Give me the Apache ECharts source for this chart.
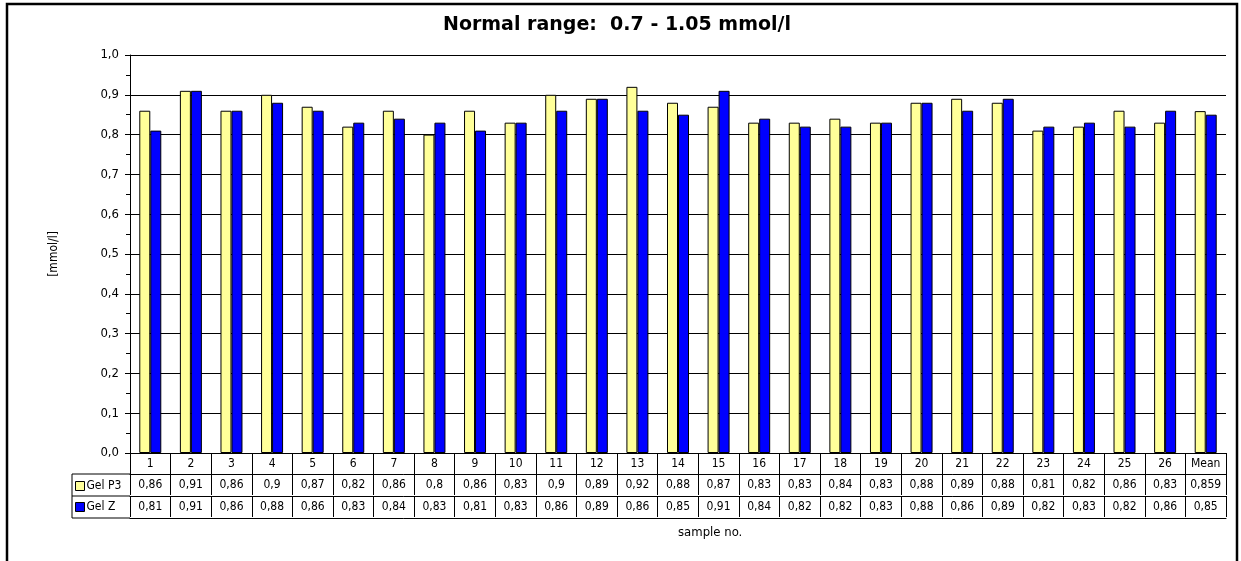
<!DOCTYPE html>
<html>
<head>
<meta charset="utf-8">
<script src="https://cdn.jsdelivr.net/npm/echarts@6/dist/echarts.min.js"></script>
<style>
html,body{margin:0;padding:0;background:#fff;}
#chart{width:1241px;height:561px;}
</style>
</head>
<body>
<div id="chart"></div>
<script>
const categories = ['1','2','3','4','5','6','7','8','9','10','11','12','13','14','15','16','17','18','19','20','21','22','23','24','25','26','Mean'];
const gelP3 = [0.86,0.91,0.86,0.9,0.87,0.82,0.86,0.8,0.86,0.83,0.9,0.89,0.92,0.88,0.87,0.83,0.83,0.84,0.83,0.88,0.89,0.88,0.81,0.82,0.86,0.83,0.859];
const gelZ = [0.81,0.91,0.86,0.88,0.86,0.83,0.84,0.83,0.81,0.83,0.86,0.89,0.86,0.85,0.91,0.84,0.82,0.82,0.83,0.88,0.86,0.89,0.82,0.83,0.82,0.86,0.85];
const seriesNames = ['Gel P3','Gel Z'];
const titleText = 'Normal range:  0.7 - 1.05 mmol/l';
const yAxisName = '[mmol/l]';
const xAxisName = 'sample no.';

const narrow = "'Liberation Sans Narrow','DejaVu Sans Condensed',Arial,sans-serif";
const fmt = v => String(v).replace('.', ',');

const chart = echarts.init(document.getElementById('chart'));

function tableAxis(data, offset, showLabels) {
  return {
    type: 'category',
    gridIndex: 0,
    position: 'bottom',
    offset: offset,
    data: data,
    axisLine: {show: true, lineStyle: {color: '#000', width: 1}},
    axisTick: {show: showLabels, length: 21, interval: 0, lineStyle: {color: '#000', width: 1}},
    axisLabel: {show: showLabels, interval: 0, margin: 5, fontSize: 12, color: '#000', fontFamily: narrow},
    splitLine: {show: false}
  };
}

const option = {
  animation: false,
  backgroundColor: '#fff',
  title: {
    text: titleText,
    left: 443,
    top: 16,
    padding: 0,
    textStyle: {fontSize: 19, fontWeight: 'bold', color: '#000', fontFamily: "'DejaVu Sans', sans-serif"}
  },
  legend: {
    orient: 'vertical',
    left: 75,
    top: 480,
    padding: 0,
    itemWidth: 9,
    itemHeight: 9,
    itemGap: 9,
    icon: 'rect',
    itemStyle: {borderColor: '#000', borderWidth: 1},
    textStyle: {fontSize: 12, color: '#000', fontFamily: narrow, padding: [0,0,0,-3]},
    data: seriesNames
  },
  grid: [{left: 130, top: 55, right: 15, bottom: 108, containLabel: false}],
  xAxis: [
    tableAxis(categories, 0, true),
    tableAxis(gelP3.map(fmt), 21, true),
    tableAxis(gelZ.map(fmt), 43, true),
    tableAxis(categories, 65, false)
  ],
  yAxis: [{
    type: 'value',
    min: 0,
    max: 1,
    interval: 0.1,
    name: yAxisName,
    nameLocation: 'middle',
    nameRotate: 90,
    nameGap: 70,
    nameTextStyle: {fontSize: 12, color: '#000', fontFamily: narrow},
    axisLine: {show: true, lineStyle: {color: '#000', width: 1}},
    axisTick: {show: true, length: 5, lineStyle: {color: '#000'}},
    minorTick: {show: true, splitNumber: 2, length: 4, lineStyle: {color: '#000'}},
    axisLabel: {formatter: v => v.toFixed(1).replace('.', ','), fontSize: 13, color: '#000', margin: 11, fontFamily: narrow},
    splitLine: {show: true, lineStyle: {color: '#000', width: 1}}
  }],
  series: [
    {
      name: seriesNames[0], type: 'bar', xAxisIndex: 0, yAxisIndex: 0,
      data: gelP3, barWidth: 11, barGap: '0%',
      itemStyle: {color: '#FFFF99', borderColor: '#000', borderWidth: 1}
    },
    {
      name: seriesNames[1], type: 'bar', xAxisIndex: 0, yAxisIndex: 0,
      data: gelZ, barWidth: 11, barGap: '0%',
      itemStyle: {color: '#0000FF', borderColor: '#000', borderWidth: 1}
    }
  ],
  graphic: [
    {type: 'rect', shape: {x: 7, y: 4, width: 1230, height: 620}, style: {fill: 'none', stroke: '#000', lineWidth: 2.5}, silent: true},
    {type: 'line', shape: {x1: 72, y1: 474, x2: 130, y2: 474}, style: {stroke: '#000', lineWidth: 1}},
    {type: 'line', shape: {x1: 72, y1: 496, x2: 130, y2: 496}, style: {stroke: '#000', lineWidth: 1}},
    {type: 'line', shape: {x1: 72, y1: 518, x2: 130, y2: 518}, style: {stroke: '#000', lineWidth: 1}},
    {type: 'line', shape: {x1: 72, y1: 474, x2: 72, y2: 518}, style: {stroke: '#000', lineWidth: 1}},
    {type: 'text', top: 526, x: 0, style: {text: xAxisName, fontSize: 13, fill: '#000', fontFamily: narrow}}
  ]
};
chart.setOption(option);
// center the x-axis name under the plot area
const gr = chart.getModel().getComponent('grid', 0).coordinateSystem.getRect();
chart.setOption({graphic: [{}, {}, {}, {}, {}, {type: 'text', top: 526, x: gr.x + gr.width / 2, style: {text: xAxisName, fontSize: 13, fill: '#000', fontFamily: narrow, align: 'center'}}]});
</script>
</body>
</html>
